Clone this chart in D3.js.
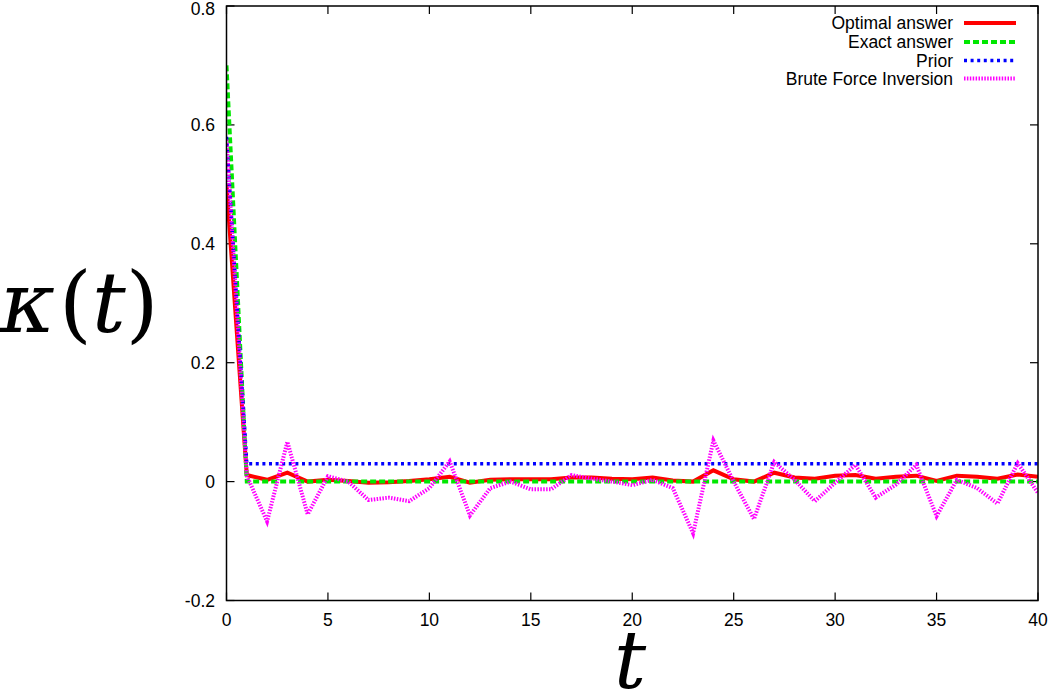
<!DOCTYPE html>
<html>
<head>
<meta charset="utf-8">
<script src="https://cdn.jsdelivr.net/npm/d3@7"></script>
<style>
  html, body { margin: 0; padding: 0; background: #fff; }
  svg { display: block; }
</style>
</head>
<body>
<svg id="chart" width="1050" height="697"></svg>
<script>
const tValues = d3.range(0, 41);
const optimal = [0.5, 0.011, 0.003, 0.015, 0.0, 0.003, 0.001, -0.002, -0.001, 0.001,
  0.004, 0.008, -0.002, 0.003, 0.004, 0.004, 0.004, 0.007, 0.007, 0.005,
  0.004, 0.007, 0.002, 0.0, 0.019, 0.004, 0.0, 0.015, 0.007, 0.005,
  0.01, 0.011, 0.005, 0.008, 0.01, 0.001, 0.01, 0.008, 0.005, 0.012, 0.008];
const exact = [0.7, 0, 0, 0, 0, 0, 0, 0, 0, 0,
  0, 0, 0, 0, 0, 0, 0, 0, 0, 0,
  0, 0, 0, 0, 0, 0, 0, 0, 0, 0,
  0, 0, 0, 0, 0, 0, 0, 0, 0, 0, 0];
const prior = [0.58, 0.03, 0.03, 0.03, 0.03, 0.03, 0.03, 0.03, 0.03, 0.03,
  0.03, 0.03, 0.03, 0.03, 0.03, 0.03, 0.03, 0.03, 0.03, 0.03,
  0.03, 0.03, 0.03, 0.03, 0.03, 0.03, 0.03, 0.03, 0.03, 0.03,
  0.03, 0.03, 0.03, 0.03, 0.03, 0.03, 0.03, 0.03, 0.03, 0.03, 0.03];
const brute = [0.575, 0.01, -0.067, 0.067, -0.055, 0.009, 0.0, -0.031, -0.027, -0.033,
  -0.011, 0.034, -0.057, -0.011, 0.0, -0.013, -0.013, 0.011, 0.005, 0.0,
  -0.006, 0.003, -0.011, -0.087, 0.069, 0.0, -0.063, 0.033, 0.003, -0.033,
  -0.002, 0.028, -0.027, -0.005, 0.028, -0.058, 0.003, -0.011, -0.037, 0.031, -0.019];
const seriesNames = ["Optimal answer", "Exact answer", "Prior", "Brute Force Inversion"];
const xTicks = [0, 5, 10, 15, 20, 25, 30, 35, 40];
const yTicks = [-0.2, 0, 0.2, 0.4, 0.6, 0.8];
const yTickLabels = ["-0.2", "0", "0.2", "0.4", "0.6", "0.8"];

const svg = d3.select("#chart");
const L = 226.5, R = 1038, T = 6, B = 600.5;
const x = d3.scaleLinear().domain([0, 40]).range([L, R]);
const y = d3.scaleLinear().domain([-0.2, 0.8]).range([B, T]);

const styles = [
  { color: "#ff0000", width: 4, dash: null },
  { color: "#00e800", width: 4, dash: "6,3" },
  { color: "#0000ff", width: 3.5, dash: "3,3.6" },
  { color: "#ff00ff", width: 4, dash: "1.5,1.4" }
];
const allSeries = [optimal, exact, prior, brute];

svg.append("defs").append("clipPath").attr("id", "clip")
  .append("rect").attr("x", L).attr("y", T).attr("width", R - L).attr("height", B - T);

const fontAxis = "'Liberation Sans', Arial, Helvetica, sans-serif";

// Ticks (inward, mirrored)
const tickLen = 8;
const g = svg.append("g");
xTicks.forEach(v => {
  g.append("line").attr("x1", x(v)).attr("x2", x(v)).attr("y1", B).attr("y2", B - tickLen)
    .attr("stroke", "#000").attr("stroke-width", 1.2);
  g.append("line").attr("x1", x(v)).attr("x2", x(v)).attr("y1", T).attr("y2", T + tickLen)
    .attr("stroke", "#000").attr("stroke-width", 1.2);
  g.append("text").attr("x", x(v)).attr("y", 626).attr("text-anchor", "middle")
    .attr("font-family", fontAxis).attr("font-size", 17.5).text(v);
});
yTicks.forEach((v, i) => {
  g.append("line").attr("x1", L).attr("x2", L + tickLen).attr("y1", y(v)).attr("y2", y(v))
    .attr("stroke", "#000").attr("stroke-width", 1.2);
  g.append("line").attr("x1", R).attr("x2", R - tickLen).attr("y1", y(v)).attr("y2", y(v))
    .attr("stroke", "#000").attr("stroke-width", 1.2);
  g.append("text").attr("x", 215).attr("y", Math.max(y(v), 9)).attr("dy", "0.35em").attr("text-anchor", "end")
    .attr("font-family", fontAxis).attr("font-size", 17.5).text(yTickLabels[i]);
});

// Lines
const line = d3.line().x((d, i) => x(tValues[i])).y(d => y(d));
const plot = svg.append("g").attr("clip-path", "url(#clip)");
allSeries.forEach((s, k) => {
  plot.append("path").datum(s).attr("d", line)
    .attr("fill", "none").attr("stroke", styles[k].color)
    .attr("stroke-width", styles[k].width)
    .attr("stroke-dasharray", styles[k].dash)
    .attr("stroke-linejoin", "miter");
});

// Frame
svg.append("rect").attr("x", L).attr("y", T).attr("width", R - L).attr("height", B - T)
  .attr("fill", "none").attr("stroke", "#000").attr("stroke-width", 1.5);

// Legend
const legY = [23, 42, 60.5, 78.5];
seriesNames.forEach((name, k) => {
  svg.append("text").attr("x", 953).attr("y", legY[k]).attr("dy", "0.35em")
    .attr("text-anchor", "end").attr("font-family", fontAxis).attr("font-size", 17.5)
    .text(name);
  svg.append("line").attr("x1", 964).attr("x2", 1016).attr("y1", legY[k]).attr("y2", legY[k])
    .attr("stroke", styles[k].color).attr("stroke-width", styles[k].width)
    .attr("stroke-dasharray", styles[k].dash);
});

// Axis labels
const serif = "'DejaVu Serif', 'Liberation Serif', serif";
const yl = svg.append("text").attr("x", 0).attr("y", 332)
  .attr("font-family", serif).attr("font-size", 84);
yl.append("tspan").attr("font-style", "italic").text("κ");
yl.append("tspan").attr("dx", 4).text("(");
yl.append("tspan").attr("font-style", "italic").text("t");
yl.append("tspan").text(")");

svg.append("text").attr("x", 630).attr("y", 688).attr("text-anchor", "middle")
  .attr("font-family", serif).attr("font-size", 80).attr("font-style", "italic").text("t");
</script>
</body>
</html>
